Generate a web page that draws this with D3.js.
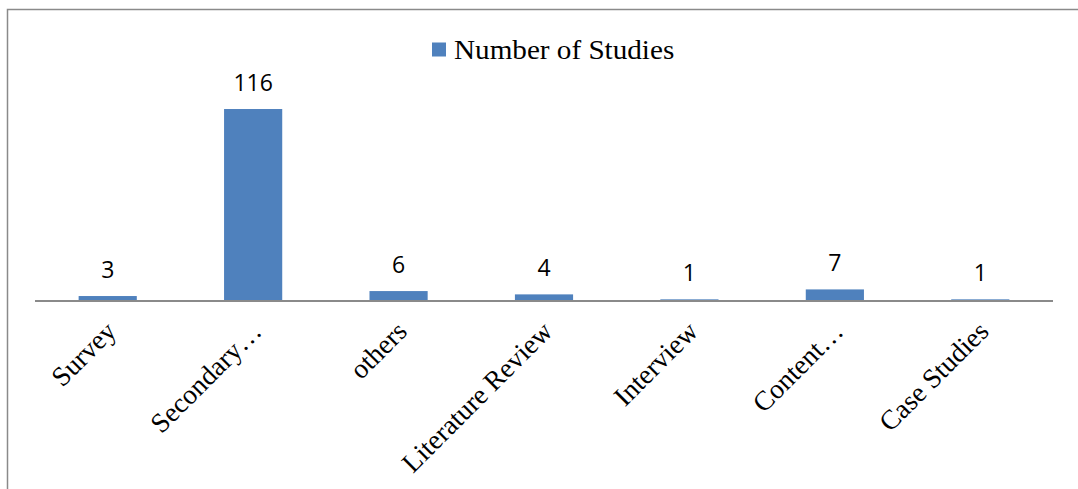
<!DOCTYPE html>
<html>
<head>
<meta charset="utf-8">
<script src="https://cdn.jsdelivr.net/npm/d3@7"></script>
<style>
  html, body { margin: 0; padding: 0; background: #fff; }
  svg { display: block; }
</style>
</head>
<body>
<svg id="chart" width="1078" height="489"></svg>
<script>
const categories = ["Survey", "Secondary\u2026", "others", "Literature Review", "Interview", "Content\u2026", "Case Studies"];
const studies = [3, 116, 6, 4, 1, 7, 1];
const seriesName = "Number of Studies";

const svg = d3.select("#chart");
const barColor = "#4f81bd";

// chart frame
svg.append("path")
  .attr("d", "M7.5,489 L7.5,9.5 L1078,9.5")
  .attr("fill", "none")
  .attr("stroke", "#8a8a8a")
  .attr("stroke-width", 1.5);

const x = d3.scaleBand()
  .domain(categories)
  .range([35, 1053])
  .paddingInner(0.6)
  .paddingOuter(0.3);

const baseY = 301;
const y = d3.scaleLinear().domain([0, 140]).range([baseY, baseY - 140 * 1.655]);

// bars
svg.selectAll("rect.bar")
  .data(studies)
  .join("rect")
  .attr("class", "bar")
  .attr("x", (d, i) => x(categories[i]))
  .attr("y", d => y(d))
  .attr("width", x.bandwidth())
  .attr("height", d => baseY - y(d))
  .attr("fill", barColor);

// category axis
const axis = d3.axisBottom(x).tickSize(0).tickPadding(0);
const gx = svg.append("g").attr("transform", `translate(0,${baseY})`).call(axis);
gx.select(".domain").attr("stroke", "#8a8a8a").attr("stroke-width", 2)
  .attr("d", "M35,0 H1053");
gx.selectAll(".tick text")
  .attr("font-family", "'Liberation Serif', 'Times New Roman', serif")
  .attr("font-size", 27.5)
  .attr("fill", "#000")
  .attr("text-anchor", "end")
  .attr("y", 0)
  .attr("dy", null)
  .attr("transform", "translate(10,32) rotate(-45)");

// value labels
svg.selectAll("text.val")
  .data(studies)
  .join("text")
  .attr("class", "val")
  .attr("x", (d, i) => x(categories[i]) + x.bandwidth() / 2)
  .attr("y", d => y(d) - 18)
  .attr("text-anchor", "middle")
  .attr("font-family", "'Open Sans', 'Noto Sans', sans-serif")
  .attr("font-size", 23)
  .attr("fill", "#000")
  .text(d => d);

// legend
svg.append("rect")
  .attr("x", 432).attr("y", 42.5)
  .attr("width", 14).attr("height", 14)
  .attr("fill", barColor);
svg.append("text")
  .attr("transform", "translate(454,59) scale(1.08,1)")
  .attr("font-family", "'Liberation Serif', 'Times New Roman', serif")
  .attr("font-size", 27)
  .attr("fill", "#000")
  .text(seriesName);
</script>
</body>
</html>
